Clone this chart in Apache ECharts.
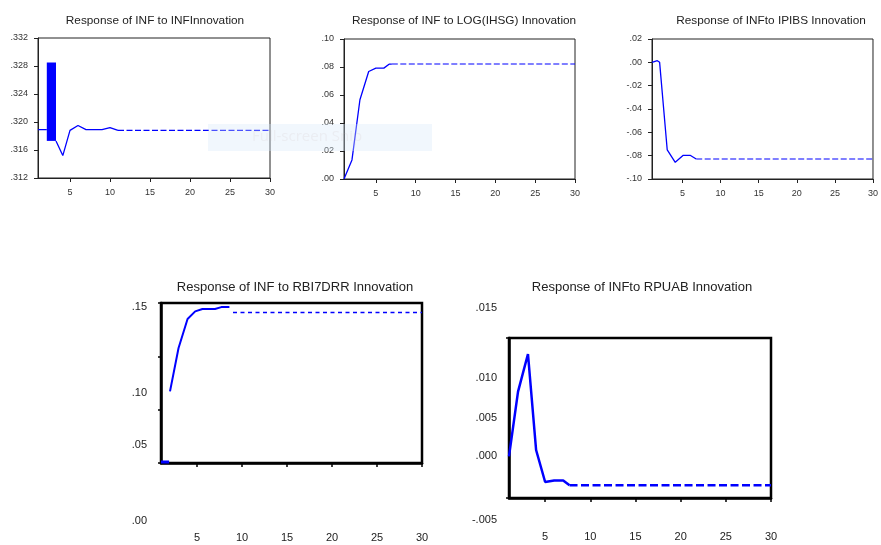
<!DOCTYPE html>
<html>
<head>
<meta charset="utf-8">
<title>Impulse responses of INF</title>
<style>
  html, body { margin: 0; padding: 0; background: #fff; }
  #irf { width: 881px; height: 545px; }
</style>
</head>
<body>
<div id="irf"></div>
<script src="https://cdn.jsdelivr.net/npm/echarts@6/dist/echarts.min.js"></script>
<script>
// ---- data ----
var periodTicks = [5, 10, 15, 20, 25, 30];

// INF -> INF
var p1Stub  = [[1, 0.3189], [2.1, 0.3189]];
var p1Band  = [[2.1, 3.25, 0.3173, 0.3285]];   // x from, x to, low, high
var p1Solid = [[3.25, 0.3173], [4.1, 0.3152], [5, 0.3188], [6, 0.3195], [7, 0.3189],
               [8, 0.3189], [9, 0.3189], [10, 0.3192], [11, 0.3188]];
var p1Dash  = [[11, 0.3188], [15, 0.3188], [20, 0.3188], [25, 0.3188], [30, 0.3188]];

// INF -> LOG(IHSG)
var p2Solid = [[1, 0], [2, 0.0136], [3, 0.0566], [4.1, 0.0768], [5, 0.0792], [6, 0.0792], [6.7, 0.0821], [7, 0.0821]];
var p2Dash  = [[7, 0.0821], [10, 0.0821], [15, 0.0821], [20, 0.0821], [25, 0.0821], [30, 0.0821]];

// INF -> IPIBS
var p3Solid = [[1, 0], [1.7, 0.0014], [2, 0], [3, -0.0751], [4.05, -0.0857], [5.1, -0.0797], [6, -0.0797], [6.8, -0.0829]];
var p3Dash  = [[6.8, -0.0829], [10, -0.0829], [15, -0.0829], [20, -0.0829], [25, -0.0829], [30, -0.0829]];

// INF -> RBI7DRR
var p4Stub  = [[1, 0.0605], [1.9, 0.0605]];
var p4Solid = [[2, 0.1003], [2.95, 0.1247], [3.95, 0.141], [4.8, 0.1453], [5.6, 0.1466], [7, 0.1466], [7.7, 0.1477], [8.6, 0.1477]];
var p4Dash  = [[9, 0.1447], [15, 0.1447], [20, 0.1447], [25, 0.1447], [30, 0.1447]];
var p4YTicks = ['.15', '.10', '.05', '.00'];

// INF -> RPUAB
var p5Solid = [[1, 0.0002], [2, 0.0083], [3.1, 0.013], [4, 0.001], [5, -0.003], [6, -0.0028], [7, -0.0028], [7.7, -0.0034]];
var p5Dash  = [[7.7, -0.0034], [10, -0.0034], [15, -0.0034], [20, -0.0034], [25, -0.0034], [30, -0.0034]];
var p5YTicks = ['.015', '.010', '.005', '.000', '-.005'];

var titles = ['Response of INF to INFInnovation', 'Response of INF to LOG(IHSG) Innovation',
              'Response of INFto IPIBS Innovation', 'Response of INF to RBI7DRR Innovation',
              'Response of INFto RPUAB Innovation'];

// ---- layout ----
// the lower panels' value labels sit off the box scale in the original, so they
// live on a pixel-unit strip axis (one per panel)
var p4LabelY = [307, 393, 445, 521];
var p5LabelY = [308, 378, 418, 456, 520];

var blue = '#0000ff';
var chart = echarts.init(document.getElementById('irf'), null, {renderer: 'canvas'});

function dec(n) {
  return function (v) {
    return v.toFixed(n).replace(/^(-?)0\./, '$1.');
  };
}

function topX(i) {
  return {
    gridIndex: i, type: 'value', min: 1, max: 30,
    axisLine: {onZero: false, lineStyle: {color: '#222', width: 1}},
    axisTick: {customValues: periodTicks, length: 4, lineStyle: {color: '#222'}},
    axisLabel: {customValues: periodTicks, fontSize: 9, color: '#333', margin: 10, fontFamily: 'Liberation Sans, Arial'},
    splitLine: {show: false}
  };
}
function topY(i, min, max, step, d) {
  return {
    gridIndex: i, type: 'value', min: min, max: max, interval: step,
    axisLine: {show: true, onZero: false, lineStyle: {color: '#222', width: 1}},
    axisTick: {show: true, length: 4, lineStyle: {color: '#222'}},
    axisLabel: {fontSize: 9, color: '#333', margin: 10, formatter: dec(d), fontFamily: 'Liberation Sans, Arial'},
    splitLine: {show: false}
  };
}
function lowX(i, margin) {
  return {
    gridIndex: i, type: 'value', min: 1, max: 30,
    axisLine: {onZero: false, lineStyle: {color: '#000', width: 2.5}},
    axisTick: {customValues: periodTicks, length: 4, lineStyle: {color: '#000', width: 1.5}},
    axisLabel: {customValues: periodTicks, fontSize: 11, color: '#222', margin: margin, fontFamily: 'Liberation Sans, Arial'},
    splitLine: {show: false}
  };
}
function strip(i, pos, texts, margin) {
  return {
    gridIndex: i, type: 'value', min: 0, max: 545, inverse: true,
    axisLine: {show: false}, axisTick: {show: false}, splitLine: {show: false},
    axisLabel: {
      customValues: pos, fontSize: 11, color: '#222', margin: margin, fontFamily: 'Liberation Sans, Arial',
      formatter: function (v) { return texts[pos.indexOf(v)]; }
    }
  };
}
function line(data, xi, width, dash) {
  return {
    type: 'line', data: data, xAxisIndex: xi, yAxisIndex: xi, symbol: 'none',
    silent: true, clip: true,
    lineStyle: {color: blue, width: width, type: dash || 'solid'}
  };
}

var titleStyleTop = {fontSize: 11.8, fontWeight: 'normal', color: '#222', fontFamily: 'Liberation Sans, Arial'};
var titleStyleLow = {fontSize: 13, fontWeight: 'normal', color: '#222', fontFamily: 'Liberation Sans, Arial'};

var option = {
  animation: false,
  backgroundColor: '#fff',
  title: [
    {text: titles[0], left: 150, top: 10, textAlign: 'center', textStyle: titleStyleTop},
    {text: titles[1], left: 459, top: 10, textAlign: 'center', textStyle: titleStyleTop},
    {text: titles[2], left: 766, top: 10, textAlign: 'center', textStyle: titleStyleTop},
    {text: titles[3], left: 290, top: 276, textAlign: 'center', textStyle: titleStyleLow},
    {text: titles[4], left: 637, top: 276, textAlign: 'center', textStyle: titleStyleLow}
  ],
  grid: [
    {left: 38, top: 38, width: 232, height: 140, show: true, borderColor: '#222', borderWidth: 1},
    {left: 344, top: 39, width: 231, height: 140, show: true, borderColor: '#222', borderWidth: 1},
    {left: 652, top: 39, width: 230, height: 140, show: true, borderColor: '#222', borderWidth: 1},
    {left: 161, top: 303, width: 261, height: 160, show: true, borderColor: '#000', borderWidth: 2.5},
    {left: 509, top: 338, width: 262, height: 160, show: true, borderColor: '#000', borderWidth: 2.5},
    {left: 161, top: 0, width: 1, height: 545},
    {left: 509, top: 0, width: 1, height: 545}
  ],
  xAxis: [
    topX(0), topX(1), topX(2),
    lowX(3, 69), lowX(4, 33),
    {gridIndex: 5, show: false, min: 0, max: 1},
    {gridIndex: 6, show: false, min: 0, max: 1}
  ],
  yAxis: [
    topY(0, 0.312, 0.332, 0.004, 3),
    topY(1, 0, 0.10, 0.02, 2),
    topY(2, -0.10, 0.02, 0.02, 2),
    {
      gridIndex: 3, type: 'value', min: 0.06, max: 0.15, interval: 0.03,
      axisLine: {show: true, onZero: false, lineStyle: {color: '#000', width: 2.5}},
      axisTick: {show: true, length: 3, lineStyle: {color: '#000', width: 1.5}},
      axisLabel: {show: false}, splitLine: {show: false}
    },
    {
      gridIndex: 4, type: 'value', min: -0.005, max: 0.015,
      axisLine: {show: true, onZero: false, lineStyle: {color: '#000', width: 2.5}},
      axisTick: {show: true, customValues: [-0.005, 0.015], length: 3, lineStyle: {color: '#000', width: 1.5}},
      axisLabel: {show: false}, splitLine: {show: false}
    },
    strip(5, p4LabelY, p4YTicks, 14),
    strip(6, p5LabelY, p5YTicks, 12)
  ],
  series: [
    line(p1Stub, 0, 1.3),
    {
      type: 'custom', xAxisIndex: 0, yAxisIndex: 0, data: p1Band, silent: true,
      encode: {x: [0, 1], y: [2, 3]},
      renderItem: function (params, api) {
        var a = api.coord([api.value(0), api.value(3)]);
        var b = api.coord([api.value(1), api.value(2)]);
        return {type: 'rect', shape: {x: a[0], y: a[1], width: b[0] - a[0], height: b[1] - a[1]}, style: {fill: blue}};
      }
    },
    line(p1Solid, 0, 1.3),
    line(p1Dash, 0, 1.1, [6, 2.5]),
    line(p2Solid, 1, 1.3),
    line(p2Dash, 1, 1.1, [6, 2.5]),
    line(p3Solid, 2, 1.3),
    line(p3Dash, 2, 1.1, [6, 2.5]),
    line(p4Stub, 3, 3),
    line(p4Solid, 3, 2),
    line(p4Dash, 3, 1.5, [4, 3.5]),
    line(p5Solid, 4, 2.5),
    line(p5Dash, 4, 2.5, [8, 3.5])
  ],
  graphic: [
    {type: 'rect', left: 208, top: 124, shape: {width: 224, height: 27}, z: 100,
     style: {fill: 'rgba(214, 232, 248, 0.35)'}},
    {type: 'text', left: 252, top: 129, z: 101,
     style: {text: 'Full-screen Snip', fontSize: 15, fill: 'rgba(200, 175, 175, 0.14)', fontFamily: 'Open Sans'}}
  ]
};

chart.setOption(option);
</script>
</body>
</html>
